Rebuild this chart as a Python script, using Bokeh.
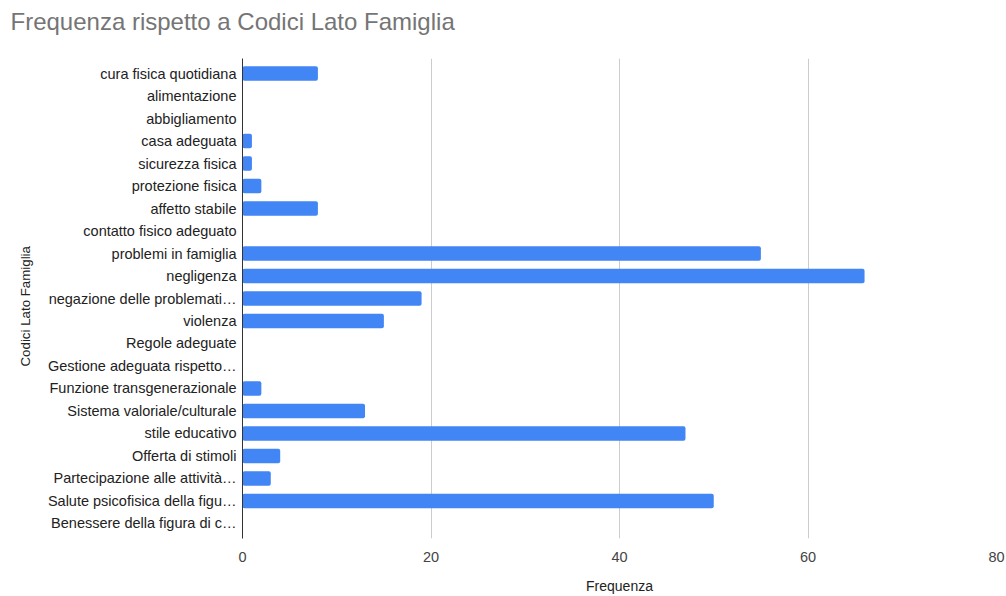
from bokeh.plotting import figure
from bokeh.layouts import column
from bokeh.models import ColumnDataSource, FactorRange, Range1d, FixedTicker, Title
from bokeh.embed import file_html
from bokeh.resources import INLINE

# Codes on the family side and how often each was assigned
categories = [
    "cura fisica quotidiana",
    "alimentazione",
    "abbigliamento",
    "casa adeguata",
    "sicurezza fisica",
    "protezione fisica",
    "affetto stabile",
    "contatto fisico adeguato",
    "problemi in famiglia",
    "negligenza",
    "negazione delle problemati…",
    "violenza",
    "Regole adeguate",
    "Gestione adeguata rispetto…",
    "Funzione transgenerazionale",
    "Sistema valoriale/culturale",
    "stile educativo",
    "Offerta di stimoli",
    "Partecipazione alle attività…",
    "Salute psicofisica della figu…",
    "Benessere della figura di c…",
]
frequenza = [8, 0, 0, 1, 1, 2, 8, 0, 55, 66, 19, 15, 0, 0, 2, 13, 47, 4, 3, 50, 0]
x_ticks = [0, 20, 40, 60, 80]

source = ColumnDataSource(data=dict(cat=categories, val=frequenza))

FONT = "Liberation Sans"

# thin strip that carries only the chart title (its frame lines up with the chart's)
head = figure(
    width=1006,
    height=37,
    x_axis_type=None,
    y_axis_type=None,
    output_backend="svg",
    toolbar_location=None,
    title="Frequenza rispetto a Codici Lato Famiglia",
    min_border_left=0,
    min_border_right=0,
    min_border_top=36,
    min_border_bottom=0,
)
head.outline_line_color = None
head.border_fill_color = "white"
head.background_fill_color = "white"
head.title.text_font = FONT
head.title.text_font_size = "24px"
head.title.text_font_style = "normal"
head.title.text_color = "#757575"
head.title.align = "left"
head.title.offset = -232
head.title.standoff = 3

p = figure(
    width=1006,
    height=559,
    y_range=FactorRange(factors=list(reversed(categories)), range_padding=0.016),
    x_range=Range1d(0, 80),
    output_backend="svg",
    toolbar_location=None,
    min_border_left=242,
    min_border_right=10,
    min_border_top=21,
    min_border_bottom=58,
)

p.hbar(y="cat", right="val", left=0, height=0.65, source=source,
       fill_color="#4285F4", line_color=None, border_radius=2)

p.outline_line_color = None
p.background_fill_color = "white"
p.border_fill_color = "white"

# x axis
p.xaxis.ticker = FixedTicker(ticks=x_ticks)
p.xaxis.axis_line_color = None
p.xaxis.major_tick_line_color = None
p.xaxis.minor_tick_line_color = None
p.xaxis.major_tick_out = 0
p.xaxis.major_tick_in = 0
p.xaxis.major_label_text_font = FONT
p.xaxis.major_label_text_font_size = "14.5px"
p.xaxis.major_label_text_color = "#444444"
p.xaxis.major_label_standoff = 13
p.xaxis.axis_label = "Frequenza"
p.xaxis.axis_label_text_font = FONT
p.xaxis.axis_label_text_font_size = "14px"
p.xaxis.axis_label_text_font_style = "normal"
p.xaxis.axis_label_text_color = "#222222"
p.xaxis.axis_label_standoff = 13

# y axis
p.yaxis.axis_line_color = "#333333"
p.yaxis.axis_line_width = 1
p.yaxis.major_tick_line_color = None
p.yaxis.minor_tick_line_color = None
p.yaxis.major_tick_out = 0
p.yaxis.major_tick_in = 0
p.yaxis.major_label_text_font = FONT
p.yaxis.major_label_text_font_size = "14.5px"
p.yaxis.major_label_text_color = "#222222"
p.yaxis.major_label_standoff = 6

# vertical category title, placed a little below the frame centre
ytitle = Title(text="Codici Lato Famiglia", align="left", offset=172, standoff=20,
               vertical_align="top",
               text_font=FONT, text_font_size="13.3px", text_font_style="normal",
               text_color="#222222")
p.add_layout(ytitle, "left")

p.xgrid.grid_line_color = "#cccccc"
p.xgrid.ticker = FixedTicker(ticks=x_ticks[1:])
p.ygrid.grid_line_color = None

page = column(head, p, spacing=0)
open("out.html", "w").write(file_html(page, INLINE))
